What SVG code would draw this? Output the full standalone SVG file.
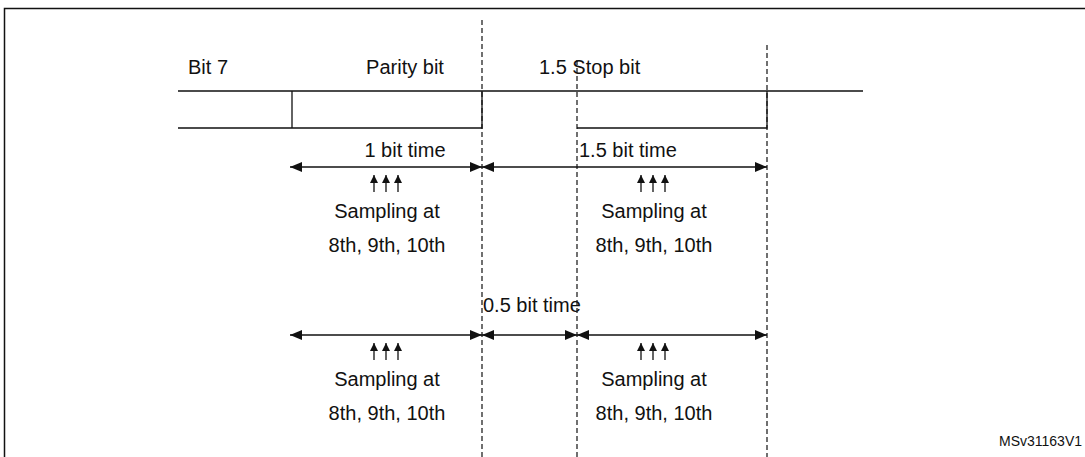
<svg xmlns="http://www.w3.org/2000/svg" width="1085" height="457" viewBox="0 0 1085 457">
<defs>
<style>
text{font-family:"Liberation Sans",Arial,sans-serif;font-size:20px;fill:#111}
.c{text-anchor:middle}
.l{stroke:#111;stroke-width:1.3;fill:none}
.d{stroke:#111;stroke-width:1.2;stroke-dasharray:5,3;fill:none}
.a{stroke:#111;stroke-width:1.3;fill:none;marker-start:url(#h);marker-end:url(#h)}
.s{stroke:#111;stroke-width:1.3;marker-end:url(#sh)}
</style>
<marker id="h" viewBox="0 0 12 10" refX="12" refY="5" markerWidth="12" markerHeight="10" markerUnits="userSpaceOnUse" orient="auto-start-reverse"><path d="M0,0L12,5L0,10z" fill="#111"/></marker>
<marker id="sh" viewBox="0 0 8 8" refX="8" refY="4" markerWidth="8" markerHeight="8" markerUnits="userSpaceOnUse" orient="auto"><path d="M0,0L8,4L0,8z" fill="#111"/></marker>
</defs>
<rect x="4.5" y="8.5" width="1090" height="460" fill="none" stroke="#111" stroke-width="1.5"/>
<g id="signal">
<path class="l" d="M178,91H863M178,128H482V91M292,91V128M577,128H767V91"/>
</g>
<g id="dashes">
<path class="d" d="M482,20V457M577,60V457M767,45V457"/>
</g>
<g id="labels">
<text class="c" x="208" y="74">Bit 7</text>
<text class="c" x="405" y="74">Parity bit</text>
<text x="539" y="74">1.5 Stop bit</text>
<text class="c" x="405" y="157">1 bit time</text>
<text x="579" y="157">1.5 bit time</text>
<text x="483" y="312">0.5 bit time</text>
<text x="1082" y="446" style="font-size:14px;text-anchor:end">MSv31163V1</text>
</g>
<g id="connectors">
<line class="a" x1="290" y1="167" x2="482" y2="167"/>
<line class="a" x1="482" y1="167" x2="767" y2="167"/>
<line class="a" x1="290" y1="335" x2="482" y2="335"/>
<line class="a" x1="482" y1="335" x2="577" y2="335"/>
<line class="a" x1="577" y1="335" x2="767" y2="335"/>
</g>
<g id="sample1">
<line class="s" x1="374" y1="192" x2="374" y2="175"/><line class="s" x1="386" y1="192" x2="386" y2="175"/><line class="s" x1="398" y1="192" x2="398" y2="175"/>
<text class="c" x="387" y="218">Sampling at</text>
<text class="c" x="387" y="252">8th, 9th, 10th</text>
</g>
<g id="sample2">
<line class="s" x1="641" y1="192" x2="641" y2="175"/><line class="s" x1="653" y1="192" x2="653" y2="175"/><line class="s" x1="665" y1="192" x2="665" y2="175"/>
<text class="c" x="654" y="218">Sampling at</text>
<text class="c" x="654" y="252">8th, 9th, 10th</text>
</g>
<g id="sample3">
<line class="s" x1="374" y1="360" x2="374" y2="343"/><line class="s" x1="386" y1="360" x2="386" y2="343"/><line class="s" x1="398" y1="360" x2="398" y2="343"/>
<text class="c" x="387" y="386">Sampling at</text>
<text class="c" x="387" y="420">8th, 9th, 10th</text>
</g>
<g id="sample4">
<line class="s" x1="641" y1="360" x2="641" y2="343"/><line class="s" x1="653" y1="360" x2="653" y2="343"/><line class="s" x1="665" y1="360" x2="665" y2="343"/>
<text class="c" x="654" y="386">Sampling at</text>
<text class="c" x="654" y="420">8th, 9th, 10th</text>
</g>
</svg>
